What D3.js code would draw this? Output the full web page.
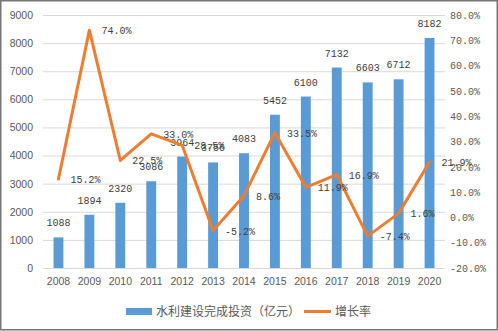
<!DOCTYPE html>
<html>
<head>
<meta charset="utf-8">
<script src="https://cdn.jsdelivr.net/npm/d3@7"></script>
<style>
  html, body { margin: 0; padding: 0; background: #fff; }
  svg { display: block; }
</style>
</head>
<body>
<div id="chart"></div>
<script>
// Annual water-conservancy construction investment and its growth rate
const years = ["2008","2009","2010","2011","2012","2013","2014","2015","2016","2017","2018","2019","2020"];
const investment = [1088, 1894, 2320, 3086, 3964, 3756, 4083, 5452, 6100, 7132, 6603, 6712, 8182];
const growth = [15.2, 74.0, 22.5, 33.0, 28.5, -5.2, 8.6, 33.5, 11.9, 16.9, -7.4, 1.6, 21.9];
const leftTicks = [0, 1000, 2000, 3000, 4000, 5000, 6000, 7000, 8000, 9000];
const rightTicks = [-20, -10, 0, 10, 20, 30, 40, 50, 60, 70, 80];
const barName = "水利建设完成投资（亿元）";
const lineName = "增长率";

const W = 498, H = 331;
const plot = { left: 43, right: 445, top: 15, bottom: 268 };

const svg = d3.select("#chart").append("svg")
  .attr("width", W).attr("height", H);

svg.append("rect")
  .attr("x", 0.75).attr("y", 0.75)
  .attr("width", 496.5).attr("height", 329)
  .attr("fill", "#fff").attr("stroke", "#767676").attr("stroke-width", 1.5);

const x = d3.scaleBand().domain(years).range([plot.left, plot.right]).paddingInner(0.68).paddingOuter(0.34);
const xc = d3.scaleBand().domain(years).range([plot.left, plot.right]);
const yL = d3.scaleLinear().domain([0, 9000]).range([plot.bottom, plot.top]);
const yR = d3.scaleLinear().domain([-20, 80]).range([plot.bottom, plot.top]);

const sans = "'Liberation Sans', Arial, sans-serif";
const mono = "'Liberation Mono', 'DejaVu Sans Mono', monospace";
const cjk = "'Noto Sans CJK SC', sans-serif";

// gridlines
svg.append("g")
  .attr("transform", `translate(${plot.left},0)`)
  .call(d3.axisLeft(yL).tickValues(leftTicks).tickSize(-(plot.right - plot.left)).tickFormat(""))
  .call(g => g.select(".domain").remove())
  .call(g => g.selectAll("line").attr("stroke", "#d9d9d9").attr("stroke-width", 1));

// left axis labels
svg.append("g")
  .attr("transform", `translate(${plot.left},0)`)
  .call(d3.axisLeft(yL).tickValues(leftTicks).tickSize(0).tickPadding(10).tickFormat(d3.format("d")))
  .call(g => g.select(".domain").remove())
  .call(g => g.selectAll("text").attr("fill", "#595959").style("font-family", sans).style("font-size", "10.5px"));

// right axis labels
svg.append("g")
  .attr("transform", `translate(${plot.right},0)`)
  .call(d3.axisRight(yR).tickValues(rightTicks).tickSize(0).tickPadding(5).tickFormat(d => d.toFixed(1) + "%"))
  .call(g => g.select(".domain").remove())
  .call(g => g.selectAll("text").attr("fill", "#595959").style("font-family", mono).style("font-size", "10px"));

// x axis labels
svg.append("g")
  .attr("transform", `translate(0,${plot.bottom})`)
  .call(d3.axisBottom(xc).tickSize(0).tickPadding(10))
  .call(g => g.select(".domain").remove())
  .call(g => g.selectAll("text").attr("fill", "#595959").style("font-family", sans).style("font-size", "10.5px"));

// bars
svg.append("g").selectAll("rect").data(years).join("rect")
  .attr("x", (d) => x(d))
  .attr("width", x.bandwidth())
  .attr("y", (d, i) => yL(investment[i]))
  .attr("height", (d, i) => plot.bottom - yL(investment[i]))
  .attr("fill", "#5b9bd5");

// bar value labels
svg.append("g").selectAll("text").data(years).join("text")
  .attr("x", d => xc(d) + xc.bandwidth() / 2)
  .attr("y", (d, i) => yL(investment[i]) - 11)
  .attr("text-anchor", "middle")
  .attr("fill", "#404040")
  .style("font-family", mono).style("font-size", "10px")
  .text((d, i) => investment[i]);

// growth line
const line = d3.line()
  .x((d, i) => xc(years[i]) + xc.bandwidth() / 2)
  .y(d => yR(d));
svg.append("path")
  .datum(growth)
  .attr("d", line)
  .attr("fill", "none")
  .attr("stroke", "#ed7d31")
  .attr("stroke-width", 3)
  .attr("stroke-linejoin", "round")
  .attr("stroke-linecap", "round");

// growth labels
svg.append("g").selectAll("text").data(growth).join("text")
  .attr("x", (d, i) => xc(years[i]) + xc.bandwidth() / 2 + 12)
  .attr("y", d => yR(d) + 4)
  .attr("fill", "#404040")
  .style("font-family", mono).style("font-size", "10px")
  .text(d => d.toFixed(1) + "%");

// legend
const lg = svg.append("g");
lg.append("rect").attr("x", 126).attr("y", 308).attr("width", 26).attr("height", 7).attr("fill", "#5b9bd5");
lg.append("text").attr("x", 156).attr("y", 316).attr("fill", "#595959")
  .style("font-family", cjk).style("font-size", "12px").text(barName);
lg.append("line").attr("x1", 304).attr("x2", 331).attr("y1", 311.5).attr("y2", 311.5)
  .attr("stroke", "#ed7d31").attr("stroke-width", 3);
lg.append("text").attr("x", 335).attr("y", 316).attr("fill", "#595959")
  .style("font-family", cjk).style("font-size", "12px").text(lineName);
</script>
</body>
</html>
